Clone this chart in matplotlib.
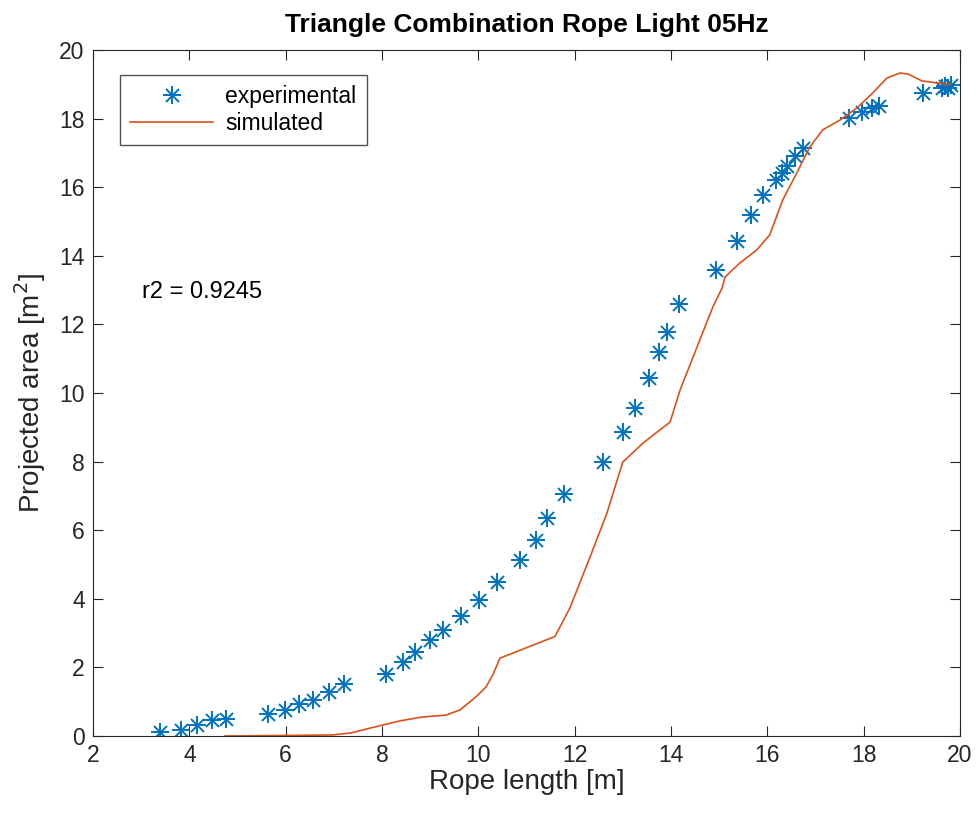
import matplotlib
matplotlib.use("Agg")
import matplotlib.pyplot as plt
from matplotlib.legend_handler import HandlerTuple

plt.rcParams['font.family'] = ['Liberation Sans', 'DejaVu Sans']

exp_x = [3.39, 3.83, 4.16, 4.47, 4.76, 5.63, 5.99, 6.28, 6.57, 6.90, 7.21,
         8.08, 8.44, 8.68, 9.00, 9.27, 9.64, 10.01, 10.39, 10.86, 11.19, 11.42, 11.78,
         12.59, 13.00, 13.25, 13.54, 13.75, 13.92, 14.17, 14.93, 15.37, 15.66, 15.91,
         16.18, 16.30, 16.41, 16.57, 16.74, 17.69, 17.96, 18.17, 18.32, 19.23,
         19.62, 19.68, 19.75, 19.82]
exp_y = [0.12, 0.17, 0.32, 0.47, 0.50, 0.64, 0.76, 0.93, 1.05, 1.28, 1.52,
         1.81, 2.16, 2.45, 2.80, 3.09, 3.50, 3.97, 4.49, 5.13, 5.71, 6.36, 7.06,
         7.99, 8.86, 9.56, 10.44, 11.20, 11.78, 12.60, 13.59, 14.43, 15.19, 15.77,
         16.21, 16.41, 16.62, 16.91, 17.14, 18.02, 18.19, 18.31, 18.37, 18.75,
         18.88, 18.95, 18.90, 18.97]

sim_x = [4.74, 6.98, 7.36, 7.75, 8.02, 8.37, 8.81, 9.33, 9.62, 9.95, 10.16, 10.30,
         10.45, 11.59, 11.90, 12.32, 12.67, 13.00, 13.11, 13.42, 13.71, 13.98, 14.19,
         14.54, 14.87, 15.06, 15.12, 15.43, 15.78, 16.05, 16.32, 16.61, 16.88, 17.15,
         17.51, 17.86, 18.19, 18.48, 18.75, 18.92, 19.21, 19.52, 19.80]
sim_y = [0.00, 0.03, 0.09, 0.23, 0.32, 0.44, 0.55, 0.61, 0.76, 1.14, 1.43, 1.78,
         2.27, 2.90, 3.73, 5.22, 6.50, 7.99, 8.13, 8.54, 8.86, 9.15, 10.09,
         11.34, 12.51, 13.06, 13.38, 13.79, 14.17, 14.61, 15.63, 16.41, 17.17, 17.67,
         17.96, 18.31, 18.75, 19.18, 19.33, 19.30, 19.10, 19.04, 19.00]

xticks = [2, 4, 6, 8, 10, 12, 14, 16, 18, 20]
yticks = [0, 2, 4, 6, 8, 10, 12, 14, 16, 18, 20]

blue = '#0072BD'
orange = '#D95319'
axc = '#262626'

fig = plt.figure(figsize=(9.8, 8.17), dpi=100)
ax = fig.add_axes([93/980, 81/817, 867/980, 686/817])

ms = 13
p1, = ax.plot(exp_x, exp_y, linestyle='none', marker='+', ms=ms, mew=1.4, color=blue)
p2, = ax.plot(exp_x, exp_y, linestyle='none', marker='x', ms=ms*0.72, mew=1.4, color=blue)
l1, = ax.plot(sim_x, sim_y, color=orange, lw=1.2)

ax.set_xlim(2, 20)
ax.set_ylim(0, 20)
ax.set_xticks(xticks)
ax.set_yticks(yticks)
ax.tick_params(direction='in', length=7, width=0.8, colors=axc, labelsize=16.5,
               top=True, right=True, pad=6)
for s in ax.spines.values():
    s.set_color(axc)
    s.set_linewidth(0.8)

ax.set_xlabel('Rope length [m]', fontsize=20, color=axc, labelpad=1)
ax.set_ylabel('Projected area [m$^2$]', fontsize=20, color=axc, labelpad=8)
ax.set_title('Triangle Combination Rope Light 05Hz', fontsize=19, fontweight='bold',
             color='black', pad=13)

ax.text(3.02, 12.94, 'r2 = 0.9245', fontsize=17, va='center', ha='left', color='black')

leg = ax.legend([(p1, p2), l1], ['experimental', 'simulated'],
                handler_map={tuple: HandlerTuple(ndivide=1, pad=0)},
                loc='upper left', bbox_to_anchor=((120-93)/867, (736-75)/686),
                fontsize=16.5, frameon=True, fancybox=False, handlelength=3.6,
                borderpad=0.45, labelspacing=0.15, handletextpad=0.55,
                borderaxespad=0)
leg.get_frame().set_edgecolor(axc)
leg.get_frame().set_linewidth(1.0)

fig.savefig('out.png', dpi=100, facecolor='white')
